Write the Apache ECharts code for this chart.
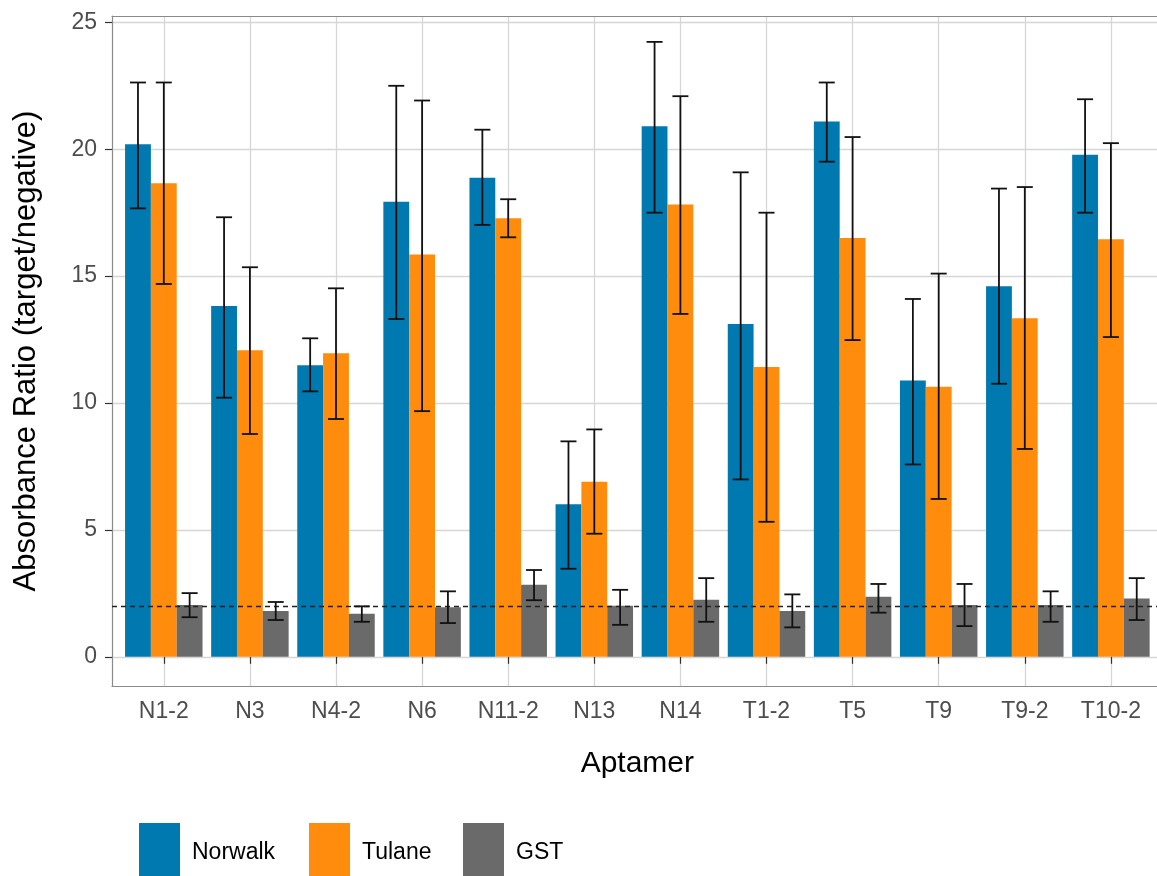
<!DOCTYPE html>
<html>
<head>
<meta charset="utf-8">
<script src="https://cdn.jsdelivr.net/npm/echarts@6/dist/echarts.min.js"></script>
<style>html,body{margin:0;padding:0;background:#fff;}#c{width:1157px;height:876px;}</style>
</head>
<body>
<div id="c"></div>
<script>
const categories = ['N1-2','N3','N4-2','N6','N11-2','N13','N14','T1-2','T5','T9','T9-2','T10-2'];
const norwalk   = [20.20,13.82,11.49,17.93,18.88,6.01,20.91,13.11,21.09,10.89,14.60,19.78];
const norwalkLo = [17.67,10.21,10.46,13.31,17.02,3.47,17.50,6.99,19.51,7.58,10.76,17.50];
const norwalkHi = [22.63,17.32,12.55,22.50,20.77,8.49,24.23,19.09,22.63,14.10,18.45,21.97];
const tulane    = [18.66,12.08,11.96,15.85,17.28,6.90,17.82,11.42,16.50,10.64,13.34,16.45];
const tulaneLo  = [14.69,8.78,9.37,9.68,16.53,4.85,13.51,5.32,12.48,6.22,8.19,12.60];
const tulaneHi  = [22.63,15.35,14.52,21.92,18.03,8.96,22.09,17.50,20.48,15.10,18.51,20.24];
const gst       = [2.04,1.81,1.70,1.95,2.84,2.01,2.25,1.81,2.37,2.04,2.04,2.30];
const gstLo     = [1.56,1.45,1.38,1.33,2.23,1.26,1.38,1.16,1.74,1.21,1.38,1.45];
const gstHi     = [2.51,2.16,1.99,2.58,3.42,2.64,3.10,2.46,2.87,2.87,2.58,3.10];
const yTicks = [0,5,10,15,20,25];
const threshold = 2;

const FONT = 'Liberation Sans, Arial, sans-serif';
const YMIN = -1.15, YMAX = 25.25;
const colors = ['#0079b0','#ff8c0d','#6a6a6a'];
const BORDER = {show:true, onZero:false, lineStyle:{color:'#8a8a8a', width:1.2}};

function errData(lo, hi, off){
  return lo.map((v,i)=>[i, v, hi[i], off]);
}
function renderErr(params, api){
  const idx = api.value(0), lo = api.value(1), hi = api.value(2), off = api.value(3);
  const bw = api.size([1,0])[0];
  const pLo = api.coord([idx, lo]);
  const pHi = api.coord([idx, hi]);
  const x = pLo[0] + off*bw*0.3;
  const cap = 8;
  const st = {stroke:'#111', lineWidth:1.8};
  return {type:'group', children:[
    {type:'line', shape:{x1:x, y1:pLo[1], x2:x, y2:pHi[1]}, style:st},
    {type:'line', shape:{x1:x-cap, y1:pLo[1], x2:x+cap, y2:pLo[1]}, style:st},
    {type:'line', shape:{x1:x-cap, y1:pHi[1], x2:x+cap, y2:pHi[1]}, style:st}
  ]};
}

const chart = echarts.init(document.getElementById('c'));
const legendBase = {top: 823, padding:0, itemWidth: 41, itemHeight: 60, icon: 'rect',
  textStyle:{fontSize:23, color:'#000', fontFamily:FONT, padding:[6,0,0,7]}};
chart.setOption({
  animation:false,
  textStyle:{fontFamily:FONT},
  legend:[
    Object.assign({left:139, data:['Norwalk']}, legendBase),
    Object.assign({left:309, data:['Tulane']}, legendBase),
    Object.assign({left:463, data:['GST']}, legendBase)
  ],
  grid:[
    {left:112, width:1051, top:16, bottom:190, show:false, outerBoundsMode:'none'},
    {left:163.8, width:947.1, top:16, bottom:190, outerBoundsMode:'none'}
  ],
  xAxis:[
    {gridIndex:0, type:'value', min:0, max:1, position:'bottom',
     axisLine:BORDER, axisTick:{show:false}, axisLabel:{show:false}, splitLine:{show:false}},
    {gridIndex:1, type:'category', data:categories, boundaryGap:false,
     axisLine:{show:false},
     axisTick:{show:true, length:7, lineStyle:{color:'#333', width:1.2}},
     splitLine:{show:true, lineStyle:{color:'#d6d6d6', width:1.3}},
     axisLabel:{interval:0, fontSize:23, color:'#4d4d4d', margin:14, fontFamily:FONT},
     name:'Aptamer', nameLocation:'middle', nameGap:63,
     nameTextStyle:{fontSize:30, color:'#000', fontFamily:FONT}},
    {gridIndex:0, type:'value', min:0, max:1, position:'top',
     axisLine:BORDER, axisTick:{show:false}, axisLabel:{show:false}, splitLine:{show:false}}
  ],
  yAxis:[
    {gridIndex:0, type:'value', min:YMIN, max:YMAX,
     axisLine:BORDER,
     axisTick:{show:true, length:7, customValues:yTicks, lineStyle:{color:'#333', width:1.2}},
     axisLabel:{fontSize:23, color:'#4d4d4d', margin:15, customValues:yTicks, fontFamily:FONT},
     splitLine:{show:false},
     name:'Absorbance Ratio (target/negative)', nameLocation:'middle', nameGap:70,
     nameTextStyle:{fontSize:31, color:'#000', fontFamily:FONT}},
    {gridIndex:1, type:'value', min:YMIN, max:YMAX, show:false, splitLine:{show:false}}
  ],
  series:[
    {type:'line', xAxisIndex:0, yAxisIndex:0, data:[[0.5,0]], showSymbol:false, symbol:'none',
     lineStyle:{opacity:0}, z:0, silent:true,
     markLine:{silent:true, z:0, symbol:['none','none'], label:{show:false},
       lineStyle:{color:'#d6d6d6', width:1.3, type:'solid'},
       data: yTicks.map(v=>({yAxis:v}))}},
    {type:'line', xAxisIndex:0, yAxisIndex:0, data:[[0.5,0]], showSymbol:false, symbol:'none',
     lineStyle:{opacity:0}, z:5, silent:true,
     markLine:{silent:true, z:5, symbol:['none','none'], label:{show:false},
       lineStyle:{color:'#222', width:1.4, type:[5,4]},
       data:[{yAxis:threshold}]}},
    {name:'Norwalk', type:'bar', xAxisIndex:1, yAxisIndex:1, data:norwalk, barGap:'0%', barCategoryGap:'10%', clip:false, itemStyle:{color:colors[0]}},
    {name:'Tulane', type:'bar', xAxisIndex:1, yAxisIndex:1, data:tulane, barGap:'0%', barCategoryGap:'10%', clip:false, itemStyle:{color:colors[1]}},
    {name:'GST', type:'bar', xAxisIndex:1, yAxisIndex:1, data:gst, barGap:'0%', barCategoryGap:'10%', clip:false, itemStyle:{color:colors[2]}},
    {type:'custom', xAxisIndex:1, yAxisIndex:1, renderItem:renderErr, data:errData(norwalkLo,norwalkHi,-1), z:6, silent:true},
    {type:'custom', xAxisIndex:1, yAxisIndex:1, renderItem:renderErr, data:errData(tulaneLo,tulaneHi,0), z:6, silent:true},
    {type:'custom', xAxisIndex:1, yAxisIndex:1, renderItem:renderErr, data:errData(gstLo,gstHi,1), z:6, silent:true}
  ]
});
</script>
</body>
</html>
